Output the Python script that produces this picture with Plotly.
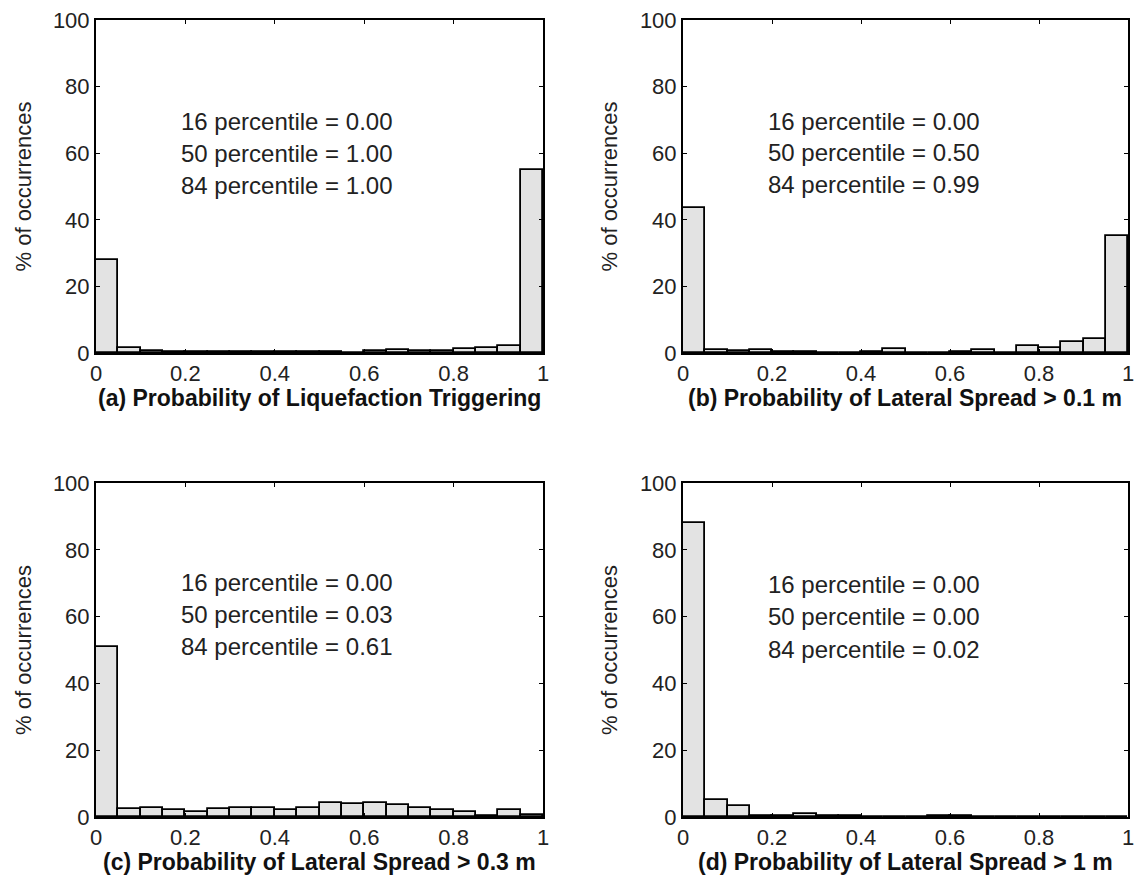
import plotly.graph_objects as go

bin_left = [round(0.05 * i, 2) for i in range(20)]
bin_width = 0.05

pct_a = [28, 1.5, 0.7, 0.3, 0.4, 0.3, 0.3, 0.3, 0.2, 0.4, 0.4, 0.1, 0.5, 0.8, 0.5, 0.6, 1.2, 1.5, 2.2, 55]
pct_b = [43.5, 1.0, 0.5, 0.8, 0.3, 0.3, 0.1, 0.1, 0.2, 1.3, 0.1, 0.1, 0.4, 0.8, 0.1, 2.0, 1.4, 3.2, 4.2, 35]
pct_c = [51, 2.3, 2.8, 2.2, 1.5, 2.3, 2.8, 2.8, 2.0, 2.8, 4.3, 3.8, 4.3, 3.5, 2.7, 2.2, 1.6, 0.3, 2.0, 0.7]
pct_d = [88, 5.1, 3.3, 0.2, 0.2, 1.0, 0.3, 0.3, 0.1, 0.1, 0.1, 0.3, 0.3, 0.1, 0.1, 0.1, 0.1, 0.1, 0.1, 0.1]

titles = ["(a) Probability of Liquefaction Triggering",
          "(b) Probability of Lateral Spread > 0.1 m",
          "(c) Probability of Lateral Spread > 0.3 m",
          "(d) Probability of Lateral Spread > 1 m"]
y_title = "% of occurrences"
pct16 = ["0.00", "0.00", "0.00", "0.00"]
pct50 = ["1.00", "0.50", "0.03", "0.00"]
pct84 = ["1.00", "0.99", "0.61", "0.02"]

x_ticks = [0, 0.2, 0.4, 0.6, 0.8, 1]
x_tick_text = ["0", "0.2", "0.4", "0.6", "0.8", "1"]
y_ticks = [0, 20, 40, 60, 80, 100]

W, H = 1143, 882
panels_px = [(96, 543, 20, 353), (683, 1128, 20, 353),
             (96, 543, 483, 817), (683, 1128, 483, 817)]
text_y = [(69.4, 59.8, 50.2), (69.4, 60.1, 50.5),
          (70.1, 60.5, 50.9), (69.5, 59.9, 50.3)]
title_y_px = [398, 398, 862, 862]
ytitle_x_px = [23, 609, 23, 609]

series = [pct_a, pct_b, pct_c, pct_d]
FONT = "Liberation Sans, Arial, sans-serif"

fig = go.Figure()
annotations = []
for i, (vals, (x0, x1, y0, y1)) in enumerate(zip(series, panels_px)):
    n = "" if i == 0 else str(i + 1)
    fig.add_trace(go.Bar(
        x=bin_left, y=vals, width=[bin_width] * len(vals), offset=0,
        marker=dict(color="#e3e3e3", line=dict(color="black", width=1.8)),
        xaxis="x" + n, yaxis="y" + n, showlegend=False, hoverinfo="x+y"))
    fig.layout["xaxis" + n] = dict(
        domain=[x0 / W, x1 / W], range=[0, 1], anchor="y" + n,
        tickvals=x_ticks, ticktext=x_tick_text, ticks="inside", ticklen=4,
        tickcolor="black", showline=True, linecolor="black", linewidth=2,
        mirror="ticks", showgrid=False, zeroline=False, automargin=False,
        tickfont=dict(family=FONT, size=22, color="#222"))
    fig.layout["yaxis" + n] = dict(
        domain=[1 - y1 / H, 1 - y0 / H], range=[0, 100], anchor="x" + n,
        tickvals=y_ticks, ticks="inside", ticklen=4, tickcolor="black",
        showline=True, linecolor="black", linewidth=2, mirror="ticks",
        showgrid=False, zeroline=False, automargin=False,
        tickfont=dict(family=FONT, size=22, color="#222"))
    # x-axis title (bold caption)
    annotations.append(dict(
        x=(x0 + x1) / 2 / W, y=1 - title_y_px[i] / H, xref="paper", yref="paper",
        text="<b>" + titles[i] + "</b>", showarrow=False,
        xanchor="center", yanchor="middle",
        font=dict(family=FONT, size=23, color="#111")))
    # y-axis title
    annotations.append(dict(
        x=ytitle_x_px[i] / W, y=1 - (y0 + y1) / 2 / H, xref="paper", yref="paper",
        text=y_title, showarrow=False, textangle=-90,
        xanchor="center", yanchor="middle",
        font=dict(family=FONT, size=22, color="#222")))
    lines = [("16 percentile = " + pct16[i], text_y[i][0]),
             ("50 percentile = " + pct50[i], text_y[i][1]),
             ("84 percentile = " + pct84[i], text_y[i][2])]
    for txt, yv in lines:
        annotations.append(dict(
            x=0.186, y=yv, xref="x" + n, yref="y" + n, text=txt,
            showarrow=False, xanchor="left", yanchor="middle",
            font=dict(family=FONT, size=24, color="#222")))

fig.update_layout(
    width=W, height=H, margin=dict(l=0, r=0, t=0, b=0),
    paper_bgcolor="white", plot_bgcolor="white", bargap=0,
    annotations=annotations)

fig.write_html("out.html")
